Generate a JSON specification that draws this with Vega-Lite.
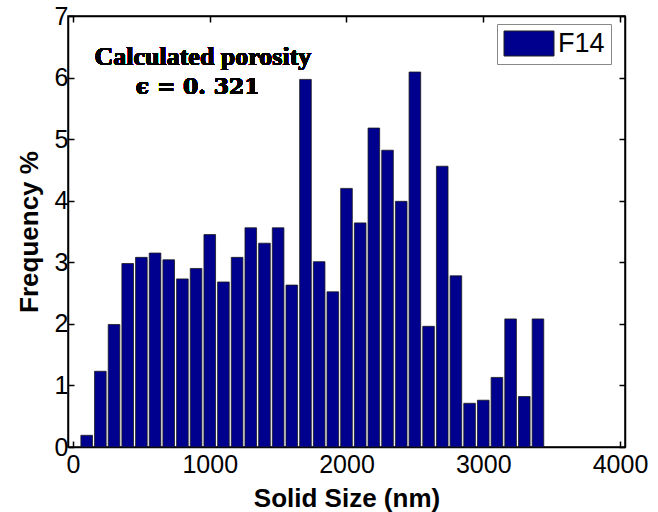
{
  "$schema": "https://vega.github.io/schema/vega-lite/v6.json",
  "width": 557,
  "height": 431,
  "autosize": {"type": "none"},
  "padding": {"left": 68, "top": 16, "right": 33, "bottom": 65},
  "background": "white",
  "config": {
    "view": {"stroke": "black", "strokeWidth": 1.5},
    "axis": {
      "domainColor": "black", "domainWidth": 1.5,
      "tickColor": "black", "tickWidth": 1.5, "tickSize": -6,
      "grid": false,
      "labelFont": "Liberation Sans", "labelFontSize": 25, "labelColor": "black",
      "titleFont": "Liberation Sans", "titleFontSize": 26, "titleFontWeight": "bold", "titleColor": "black"
    }
  },
  "data": {
    "values": [
      {"size": 100, "freq": 0.19, "series": "F14"},
      {"size": 200, "freq": 1.23, "series": "F14"},
      {"size": 300, "freq": 1.99, "series": "F14"},
      {"size": 400, "freq": 2.98, "series": "F14"},
      {"size": 500, "freq": 3.08, "series": "F14"},
      {"size": 600, "freq": 3.15, "series": "F14"},
      {"size": 700, "freq": 3.04, "series": "F14"},
      {"size": 800, "freq": 2.73, "series": "F14"},
      {"size": 900, "freq": 2.90, "series": "F14"},
      {"size": 1000, "freq": 3.45, "series": "F14"},
      {"size": 1100, "freq": 2.68, "series": "F14"},
      {"size": 1200, "freq": 3.08, "series": "F14"},
      {"size": 1300, "freq": 3.56, "series": "F14"},
      {"size": 1400, "freq": 3.31, "series": "F14"},
      {"size": 1500, "freq": 3.56, "series": "F14"},
      {"size": 1600, "freq": 2.63, "series": "F14"},
      {"size": 1700, "freq": 5.97, "series": "F14"},
      {"size": 1800, "freq": 3.01, "series": "F14"},
      {"size": 1900, "freq": 2.52, "series": "F14"},
      {"size": 2000, "freq": 4.20, "series": "F14"},
      {"size": 2100, "freq": 3.64, "series": "F14"},
      {"size": 2200, "freq": 5.18, "series": "F14"},
      {"size": 2300, "freq": 4.82, "series": "F14"},
      {"size": 2400, "freq": 3.99, "series": "F14"},
      {"size": 2500, "freq": 6.09, "series": "F14"},
      {"size": 2600, "freq": 1.96, "series": "F14"},
      {"size": 2700, "freq": 4.56, "series": "F14"},
      {"size": 2800, "freq": 2.78, "series": "F14"},
      {"size": 2900, "freq": 0.71, "series": "F14"},
      {"size": 3000, "freq": 0.76, "series": "F14"},
      {"size": 3100, "freq": 1.13, "series": "F14"},
      {"size": 3200, "freq": 2.08, "series": "F14"},
      {"size": 3300, "freq": 0.82, "series": "F14"},
      {"size": 3400, "freq": 2.08, "series": "F14"}
    ]
  },
  "layer": [
    {
      "mark": {"type": "bar", "width": 11.6, "stroke": "#1a1a1a", "strokeWidth": 0.8},
      "encoding": {
        "x": {"field": "size", "type": "quantitative",
              "scale": {"domain": [0, 4000], "nice": false},
              "axis": {"values": [0, 1000, 2000, 3000, 4000], "format": "d", "title": "Solid Size (nm)", "labelPadding": 11, "titlePadding": 8, "labelFlush": false}},
        "y": {"field": "freq", "type": "quantitative",
              "scale": {"domain": [0, 7], "nice": false},
              "axis": {"values": [0, 1, 2, 3, 4, 5, 6, 7], "format": "d", "title": "Frequency %", "labelPadding": 6, "titlePadding": 12, "labelFlush": false}},
        "color": {"field": "series", "type": "nominal",
                  "scale": {"range": ["#00008f"]},
                  "legend": {"title": null, "orient": "none", "legendX": 429, "legendY": 8,
                             "strokeColor": "#888888", "padding": 6, "fillColor": "white",
                             "symbolType": "M-1,-1 L3,-1 L3,1 L-1,1 Z", "symbolSize": 625,
                             "symbolStrokeColor": "#222222", "symbolStrokeWidth": 1, "symbolOpacity": 1,
                             "labelExpr": "datum.label + '\u00a0'",
                             "labelFont": "Liberation Sans", "labelFontSize": 27, "labelColor": "black", "labelOffset": 28}}
      }
    },
    {
      "mark": {"type": "text", "text": "Calculated porosity", "font": "Liberation Serif", "fontWeight": "bold", "fontSize": 26, "baseline": "alphabetic", "align": "center", "fill": "black", "stroke": null},
      "encoding": {
        "x": {"datum": 950, "type": "quantitative", "axis": {"orient": "top", "values": [0, 1000, 2000, 3000, 4000], "labels": false, "title": null}},
        "y": {"datum": 6.2, "type": "quantitative", "axis": {"orient": "right", "values": [0, 1, 2, 3, 4, 5, 6, 7], "labels": false, "title": null}}
      }
    },
    {
      "mark": {"type": "text", "text": "ϵ = 0.\u00a0321", "font": "DejaVu Serif", "fontWeight": "bold", "fontSize": 22, "baseline": "alphabetic", "align": "center", "fill": "black", "stroke": null},
      "encoding": {
        "x": {"datum": 912, "type": "quantitative", "axis": null},
        "y": {"datum": 5.74, "type": "quantitative", "axis": null}
      }
    }
  ],
  "resolve": {"axis": {"x": "independent", "y": "independent"}}
}
